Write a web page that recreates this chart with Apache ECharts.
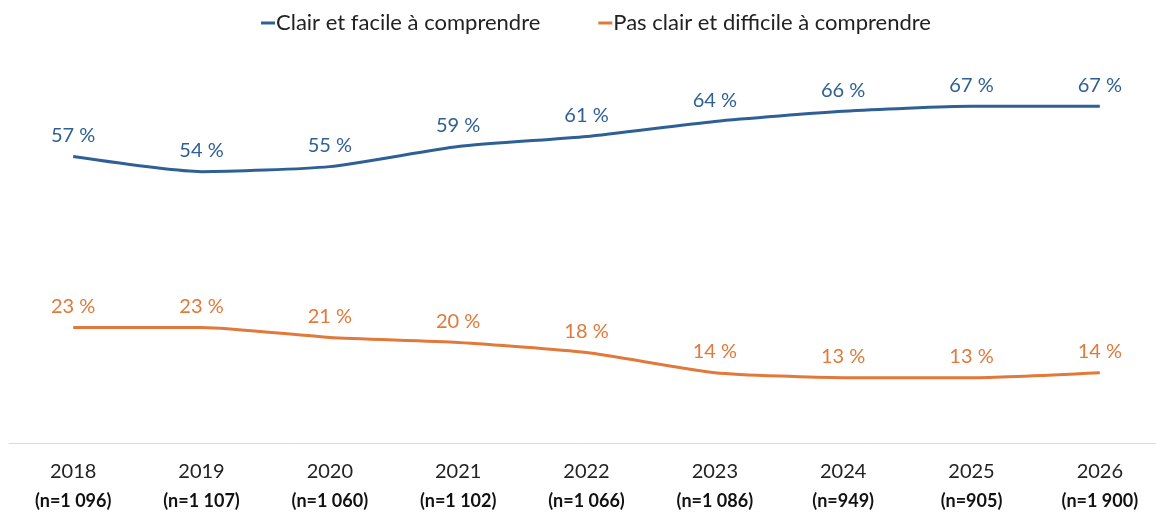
<!DOCTYPE html>
<html>
<head>
<meta charset="utf-8">
<script src="https://cdn.jsdelivr.net/npm/echarts@6/dist/echarts.min.js"></script>
<style>
  html, body { margin: 0; padding: 0; background: #fff; }
  #chart { width: 1156px; height: 514px; }
</style>
</head>
<body>
<div id="chart"></div>
<script>
var years = ['2018', '2019', '2020', '2021', '2022', '2023', '2024', '2025', '2026'];
var sampleSizes = ['(n=1 096)', '(n=1 107)', '(n=1 060)', '(n=1 102)', '(n=1 066)', '(n=1 086)', '(n=949)', '(n=905)', '(n=1 900)'];
var clairValues = [57, 54, 55, 59, 61, 64, 66, 67, 67];
var pasClairValues = [23, 23, 21, 20, 18, 14, 13, 13, 14];
var seriesNames = ['Clair et facile à comprendre', 'Pas clair et difficile à comprendre'];

var blue = '#2E6096';
var orange = '#E0793A';
var font = 'Lato, "Open Sans", sans-serif';

var chart = echarts.init(document.getElementById('chart'));

function lineSeries(name, values, color) {
    return {
        name: name,
        type: 'line',
        data: values,
        smooth: 0.2,
        symbol: 'circle',
        symbolSize: 0,
        showSymbol: true,
        lineStyle: { color: color, width: 3 },
        itemStyle: { color: color },
        label: {
            show: true,
            position: 'top',
            distance: 11,
            fontFamily: font,
            fontSize: 20,
            color: color,
            formatter: '{c} %'
        }
    };
}

var option = {
    animation: false,
    textStyle: { fontFamily: font },
    legend: {
        top: 7,
        left: 256,
        icon: 'rect',
        itemWidth: 14,
        itemHeight: 3,
        itemGap: 58,
        data: seriesNames,
        textStyle: {
            fontFamily: font,
            fontSize: 22,
            color: '#222',
            padding: [0, 0, 0, -4]
        }
    },
    grid: {
        left: 9,
        right: -8,
        top: 41,
        bottom: 71,
        outerBoundsMode: 'none'
    },
    xAxis: {
        type: 'category',
        data: years.map(function (y, i) { return y + '\n' + sampleSizes[i]; }),
        axisLine: { lineStyle: { color: '#d9d9d9', width: 1 } },
        axisTick: { show: false },
        axisLabel: {
            margin: 14,
            interval: 0,
            formatter: function (v) {
                var parts = v.split('\n');
                return '{y|' + parts[0] + '}\n{n|' + parts[1] + '}';
            },
            rich: {
                y: { fontFamily: font, fontSize: 20, color: '#222', lineHeight: 30 },
                n: { fontFamily: font, fontSize: 18, fontWeight: 'bold', color: '#111', lineHeight: 28 }
            }
        }
    },
    yAxis: {
        type: 'value',
        min: 0,
        max: 80,
        show: false,
        splitLine: { show: false }
    },
    series: [
        lineSeries(seriesNames[0], clairValues, blue),
        lineSeries(seriesNames[1], pasClairValues, orange)
    ]
};

chart.setOption(option);
</script>
</body>
</html>
